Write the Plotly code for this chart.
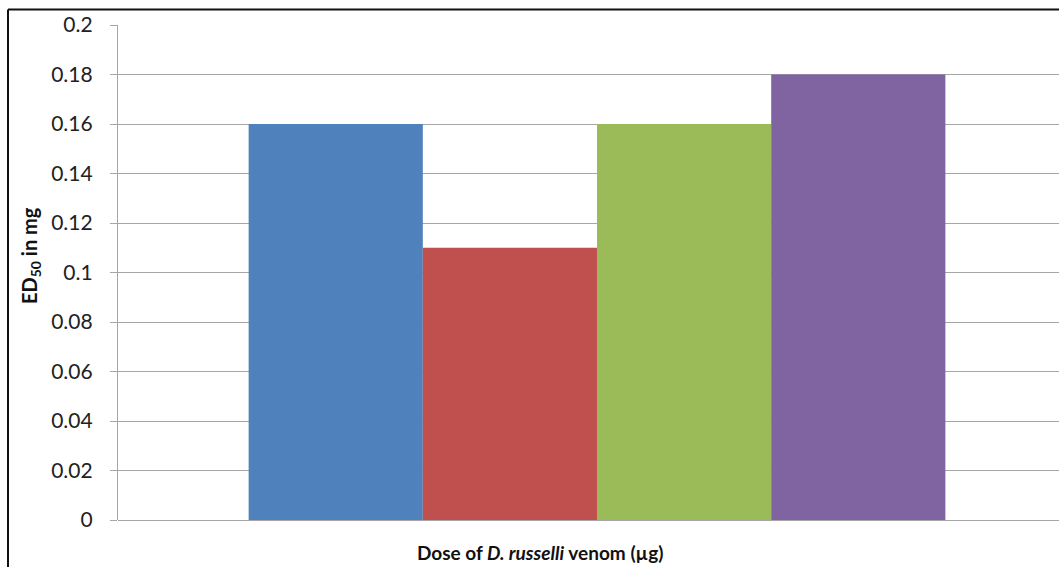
import plotly.graph_objects as go

# ED50 values (mg) for the four venom doses
series_names = ["Dose 1", "Dose 2", "Dose 3", "Dose 4"]
ed50_values = [0.16, 0.11, 0.16, 0.18]
bar_colors = ["#4F81BD", "#C0504D", "#9BBB59", "#8064A2"]

tick_vals = [0, 0.02, 0.04, 0.06, 0.08, 0.1, 0.12, 0.14, 0.16, 0.18, 0.2]
tick_text = ["0", "0.02", "0.04", "0.06", "0.08", "0.1", "0.12", "0.14", "0.16", "0.18", "0.2"]

W, H = 1059, 567
L, R, T, B = 118, 0, 25, 47
pw, ph = W - L - R, H - T - B

def px_x(p):
    return (p - L) / pw

def px_y(p):
    return (H - B - p) / ph

fig = go.Figure()
for name, val, col in zip(series_names, ed50_values, bar_colors):
    fig.add_trace(go.Bar(x=["dose"], y=[val], name=name, marker_color=col,
                         marker_line_width=0))

grid = "#a6a6a6"
fig.update_layout(
    width=W, height=H,
    margin=dict(l=L, r=R, t=T, b=B),
    paper_bgcolor="white", plot_bgcolor="white",
    barmode="group", bargap=1.5 / 5.5, bargroupgap=0,
    showlegend=False,
    font=dict(family="Lato, Carlito, Calibri, sans-serif", color="#222"),
    xaxis=dict(type="category", range=[-0.5, (W - L) / 958 - 0.5],
               showticklabels=False, showgrid=False, zeroline=False,
               showline=False, ticks=""),
    yaxis=dict(range=[0, 0.2], tickvals=tick_vals, ticktext=tick_text,
               showgrid=True, gridcolor=grid, gridwidth=1.3,
               zeroline=True, zerolinecolor=grid, zerolinewidth=1.3,
               showline=True, linecolor=grid, linewidth=1.3,
               ticks="outside", ticklen=7, tickcolor=grid, tickwidth=1.3,
               ticklabelstandoff=13,
               tickfont=dict(size=21, color="#222")),
)

# chart frame (left and top edges)
fig.add_shape(type="line", xref="paper", yref="paper",
              x0=px_x(8), x1=px_x(8), y0=px_y(600), y1=px_y(9.5),
              line=dict(color="#111", width=2))
fig.add_shape(type="line", xref="paper", yref="paper",
              x0=px_x(8), x1=px_x(1100), y0=px_y(9.5), y1=px_y(9.5),
              line=dict(color="#111", width=2))

fig.add_annotation(text="<b>ED<sub>50</sub> in mg</b>", xref="paper", yref="paper",
                   x=px_x(30), y=px_y(256), textangle=-90, showarrow=False,
                   font=dict(size=20, color="#111"), xanchor="center", yanchor="middle")
fig.add_annotation(text="<b>Dose of <i>D. russelli</i> venom (µg)</b>", xref="paper", yref="paper",
                   x=px_x(540), y=px_y(552), showarrow=False,
                   font=dict(size=19, color="#111"), xanchor="center", yanchor="middle")

fig.write_html("out.html")
